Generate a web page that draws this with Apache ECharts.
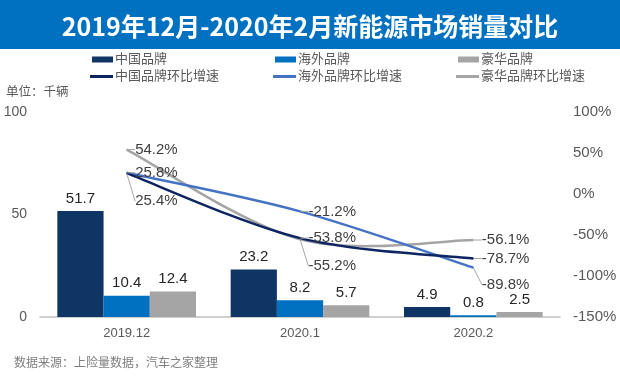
<!DOCTYPE html>
<html><head><meta charset="utf-8">
<script src="https://cdn.jsdelivr.net/npm/echarts@6/dist/echarts.min.js"></script>
<style>html,body{margin:0;padding:0;background:#fff}#c{width:620px;height:380px}</style>
</head><body><div id="c"></div>
<script>
const categories = ['2019.12', '2020.1', '2020.2'];
const cnSales = [51.7, 23.2, 4.9];
const osSales = [10.4, 8.2, 0.8];
const luxSales = [12.4, 5.7, 2.5];
const cnGrowth = [25.4, -53.8, -78.7];
const osGrowth = [25.8, -21.2, -89.8];
const luxGrowth = [54.2, -55.2, -56.1];
const names = ['中国品牌', '海外品牌', '豪华品牌', '中国品牌环比增速', '海外品牌环比增速', '豪华品牌环比增速'];
// label vertical shifts (px) for labels pulled away from their points
const cnShift = [28, 0, 0];
const osShift = [0, 0, 17];
const luxShift = [0, 27, 0];

const FONT = '"Liberation Sans", Arial, "Noto Sans CJK SC", sans-serif';
const chart = echarts.init(document.getElementById('c'), null, {renderer: 'canvas'});

function legendItem(name, left, top, color, isLine) {
  return {
    data: [{name: name, itemStyle: {color: color, opacity: 1}}], left: left, top: top,
    itemWidth: isLine ? 23 : 21, itemHeight: isLine ? 3 : 6,
    icon: 'rect', itemGap: 4, padding: 0,
    textStyle: {fontSize: 13, color: '#595959', fontFamily: FONT, padding: [0, 0, 0, -3]},
    selectedMode: false
  };
}
function barSeries(name, data, color) {
  return {
    name: name, type: 'bar', data: data, yAxisIndex: 0, barGap: '0%', barCategoryGap: '20%',
    itemStyle: {color: color},
    label: {show: true, position: 'top', distance: 5, fontSize: 15, color: '#262626', fontFamily: FONT}
  };
}
// invisible line series: carries legend entry and value labels
function labelSeries(name, data, color, shifts) {
  return {
    name: name, type: 'line', data: data, yAxisIndex: 1, smooth: false,
    showSymbol: true, symbol: 'circle', symbolSize: 1,
    lineStyle: {color: color, width: 0, opacity: 0}, itemStyle: {color: color},
    label: {show: true, position: 'right', distance: 8, fontSize: 15, color: '#404040', fontFamily: FONT,
      formatter: p => p.value + '%'},
    labelLine: {show: true, lineStyle: {color: '#a6a6a6', width: 1}},
    labelLayout: p => ({dy: shifts[p.dataIndex]}),
    z: 6
  };
}
// smooth spline (Catmull-Rom style, like spreadsheet smoothing) drawn through the axis scales
function curveSeries(data, color) {
  return {
    type: 'custom', yAxisIndex: 1, silent: true, z: 5,
    data: data.map((v, i) => [i, v]),
    renderItem: (params, api) => {
      const i = params.dataIndex;
      if (i >= data.length - 1) return null;
      const P = k => {
        const j = Math.max(0, Math.min(data.length - 1, k));
        return api.coord([j, data[j]]);
      };
      const p0 = P(i - 1), p1 = P(i), p2 = P(i + 1), p3 = P(i + 2);
      return {
        type: 'bezierCurve',
        shape: {
          x1: p1[0], y1: p1[1], x2: p2[0], y2: p2[1],
          cpx1: p1[0] + (p2[0] - p0[0]) / 6, cpy1: p1[1] + (p2[1] - p0[1]) / 6,
          cpx2: p2[0] - (p3[0] - p1[0]) / 6, cpy2: p2[1] - (p3[1] - p1[1]) / 6
        },
        style: {stroke: color, lineWidth: 2.5, fill: null}
      };
    }
  };
}

chart.setOption({
  animation: false,
  textStyle: {fontFamily: FONT},
  graphic: [
    {type: 'rect', left: 0, top: 0, shape: {width: 620, height: 49}, style: {fill: '#0070C0'}, z: 0},
    {type: 'text', left: 6, top: 86, style: {text: '单位：千辆', fontSize: 12.5, fill: '#595959', fontFamily: FONT}},
    {type: 'text', left: 14, top: 358, style: {text: '数据来源：上险量数据，汽车之家整理', fontSize: 12, fill: '#7f7f7f', fontFamily: FONT}}
  ],
  title: {
    text: '2019年12月-2020年2月新能源市场销量对比', left: 'center', top: 9,
    textStyle: {color: '#fff', fontSize: 25, fontWeight: 'bold', fontFamily: '"Noto Sans CJK SC", sans-serif'}
  },
  legend: [
    legendItem(names[0], 92, 53, '#0e3564', false),
    legendItem(names[1], 275, 53, '#0070C0', false),
    legendItem(names[2], 458, 53, '#A5A5A5', false),
    legendItem(names[3], 90, 70, '#0c2461', true),
    legendItem(names[4], 273, 70, '#4472C4', true),
    legendItem(names[5], 456, 70, '#A5A5A5', true)
  ],
  grid: {left: 40, right: 60, top: 112, bottom: 63},
  xAxis: {
    type: 'category', data: categories,
    axisLine: {lineStyle: {color: '#bfbfbf', width: 1.5}}, axisTick: {show: false},
    axisLabel: {fontSize: 13, color: '#595959', margin: 10, fontFamily: FONT}
  },
  yAxis: [
    {type: 'value', min: 0, max: 100, interval: 50, splitLine: {show: false},
      axisLine: {show: false}, axisTick: {show: false},
      axisLabel: {fontSize: 14, color: '#595959', margin: 13, fontFamily: FONT}},
    {type: 'value', min: -150, max: 100, interval: 50, splitLine: {show: false},
      axisLine: {show: false}, axisTick: {show: false},
      axisLabel: {fontSize: 15, color: '#595959', margin: 13, formatter: '{value}%', fontFamily: FONT}}
  ],
  series: [
    barSeries(names[0], cnSales, '#0e3564'),
    barSeries(names[1], osSales, '#0070C0'),
    barSeries(names[2], luxSales, '#A5A5A5'),
    curveSeries(luxGrowth, '#A5A5A5'),
    curveSeries(osGrowth, '#4472C4'),
    curveSeries(cnGrowth, '#0c2461'),
    labelSeries(names[3], cnGrowth, '#0c2461', cnShift),
    labelSeries(names[4], osGrowth, '#4472C4', osShift),
    labelSeries(names[5], luxGrowth, '#A5A5A5', luxShift)
  ]
});
</script></body></html>
